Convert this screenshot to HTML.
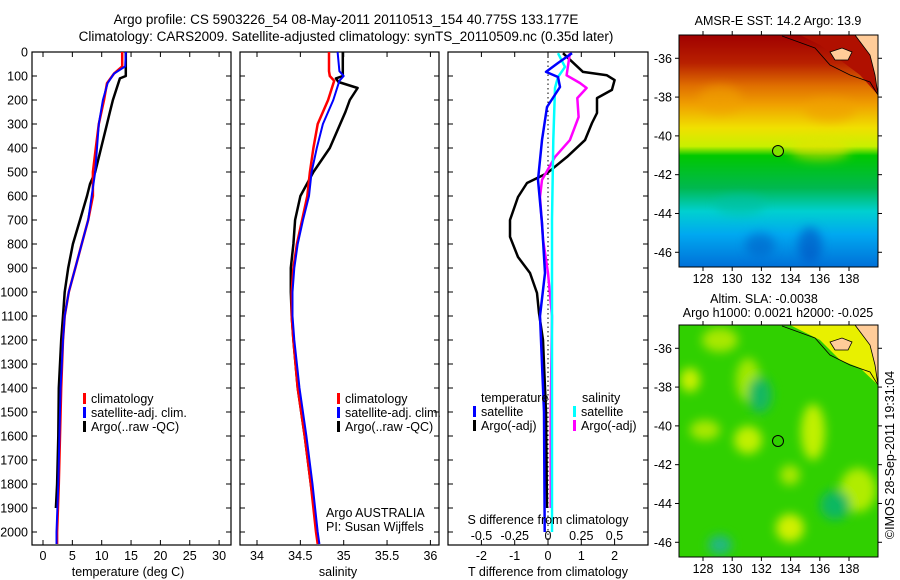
<!DOCTYPE html>
<html><head><meta charset="utf-8">
<style>
body{margin:0;background:#fff;}
svg{display:block;font-family:"Liberation Sans",sans-serif;font-size:12.5px;}
</style></head>
<body>
<svg id="s" width="900" height="580" viewBox="0 0 900 580">
<defs>
<linearGradient id="sst" x1="0" y1="0" x2="0" y2="1">
<stop offset="0" stop-color="#a00000"/><stop offset="0.12" stop-color="#b82000"/>
<stop offset="0.22" stop-color="#e07000"/><stop offset="0.3" stop-color="#f0a000"/>
<stop offset="0.4" stop-color="#f0e000"/><stop offset="0.48" stop-color="#c8f000"/>
<stop offset="0.52" stop-color="#00c800"/><stop offset="0.66" stop-color="#00b850"/>
<stop offset="0.76" stop-color="#00d0d0"/><stop offset="0.86" stop-color="#00a8f0"/>
<stop offset="1" stop-color="#0070d8"/></linearGradient>
<filter id="bl"><feGaussianBlur stdDeviation="5"/></filter>
<clipPath id="c1"><rect x="679" y="35" width="199" height="232"/></clipPath>
<clipPath id="c2"><rect x="679" y="325" width="199" height="232"/></clipPath>
</defs>
<g id="titles">
<text x="346" y="24" text-anchor="middle" font-size="13.5">Argo profile: CS 5903226_54 08-May-2011 20110513_154 40.775S 133.177E</text>
<text x="346" y="41" text-anchor="middle" font-size="13.5">Climatology: CARS2009. Satellite-adjusted climatology: synTS_20110509.nc (0.35d later)</text>
</g>
<g id="p1"></g>
<g id="p2"></g>
<g id="p3"></g>
<g id="m1">
<text x="778" y="25" text-anchor="middle">AMSR-E SST: 14.2 Argo: 13.9</text>
<g clip-path="url(#c1)">
<rect x="679" y="35" width="199" height="232" fill="url(#sst)"/>
<g filter="url(#bl)" opacity="0.6">
<ellipse cx="720" cy="100" rx="22" ry="14" fill="#f0a000"/>
<ellipse cx="830" cy="110" rx="25" ry="12" fill="#f0a000"/>
<ellipse cx="820" cy="150" rx="30" ry="10" fill="#e8e000"/>
<ellipse cx="740" cy="205" rx="25" ry="10" fill="#00c0a0"/>
<ellipse cx="810" cy="245" rx="12" ry="18" fill="#0050c0"/>
<ellipse cx="760" cy="245" rx="15" ry="12" fill="#0060c8"/>
</g>
<path d="M800 35 L820 45 L840 60 L860 75 L878 95 L878 35 Z" fill="#b01000"/>
<path d="M855 35 L870 55 L875 75 L878 95 L878 35 Z" fill="#ffcc99" stroke="#000" stroke-width="0.8"/>
<path d="M830 52 L842 48 L852 52 L848 60 L835 60 Z" fill="#ffcc99" stroke="#000" stroke-width="0.8"/>
<path d="M782 36 L815 48 L830 65 L850 75 L870 82 L878 95" fill="none" stroke="#000" stroke-width="0.8"/>
<circle cx="778" cy="151" r="5.5" fill="#80e000" stroke="#000" stroke-width="1"/>
</g>
<rect x="679" y="35" width="199" height="232" fill="none" stroke="#000"/>
</g>
<g id="m2">
<text x="764" y="303" text-anchor="middle">Altim. SLA: -0.0038</text>
<text x="778" y="317" text-anchor="middle">Argo h1000: 0.0021 h2000: -0.025</text>
<g clip-path="url(#c2)">
<rect x="679" y="325" width="199" height="232" fill="#30d000"/>
<g filter="url(#bl)">
<ellipse cx="720" cy="340" rx="18" ry="12" fill="#a8e800"/>
<ellipse cx="748" cy="380" rx="12" ry="22" fill="#a0e800"/>
<ellipse cx="748" cy="440" rx="14" ry="14" fill="#c0f000"/>
<ellipse cx="705" cy="430" rx="15" ry="10" fill="#a8e800"/>
<ellipse cx="813" cy="432" rx="12" ry="28" fill="#c0f000"/>
<ellipse cx="858" cy="490" rx="18" ry="22" fill="#b0ec00"/>
<ellipse cx="790" cy="475" rx="10" ry="10" fill="#a8e800"/>
<ellipse cx="790" cy="528" rx="14" ry="14" fill="#d0f000"/>
<ellipse cx="720" cy="545" rx="12" ry="10" fill="#20b880"/>
<ellipse cx="835" cy="505" rx="15" ry="15" fill="#10b860"/>
<ellipse cx="760" cy="395" rx="12" ry="18" fill="#18b860"/>
<ellipse cx="690" cy="380" rx="10" ry="12" fill="#c8f000"/>
</g>
<path d="M790 325 L820 340 L840 360 L860 368 L878 385 L878 325 Z" fill="#e8f000"/>
<path d="M855 325 L870 345 L875 365 L878 385 L878 325 Z" fill="#ffcc99" stroke="#000" stroke-width="0.8"/>
<path d="M830 342 L842 338 L852 342 L848 350 L835 350 Z" fill="#ffcc99" stroke="#000" stroke-width="0.8"/>
<path d="M782 326 L815 338 L830 355 L850 365 L870 372 L878 385" fill="none" stroke="#000" stroke-width="0.8"/>
<circle cx="778" cy="441" r="5.5" fill="none" stroke="#000" stroke-width="1"/>
</g>
<rect x="679" y="325" width="199" height="232" fill="none" stroke="#000"/>
</g>
<text x="894" y="455" transform="rotate(-90 894 455)" text-anchor="middle">©IMOS 28-Sep-2011 19:31:04</text>
</svg>
<script>
// ---- data ----
const tempDepthArgo = [0,100,110,200,250,300,400,500,550,600,700,800,900,1000,1100,1200,1400,1600,1800,1900];
const tempArgo = [14.1,14.1,13.1,11.9,11.4,10.9,9.9,8.9,8.0,7.5,6.3,5.1,4.3,3.7,3.4,3.1,2.7,2.6,2.4,2.2];
const tempDepthClim = [0,60,90,130,200,300,400,500,600,700,800,900,1000,1100,1200,1400,1600,1800,2000,2050];
const tempClim = [13.5,13.5,12.1,10.9,10.4,9.5,9.0,8.5,8.5,7.7,6.6,5.5,4.4,3.7,3.4,3.1,2.9,2.7,2.4,2.4];
const tempSat = [14.1,14.0,12.1,11.0,10.2,9.5,9.2,8.9,8.3,7.7,6.6,5.5,4.4,3.7,3.4,3.0,2.8,2.6,2.3,2.3];
const salDepthArgo = [0,100,110,125,150,200,250,300,400,500,600,700,800,900,1000,1100,1200,1400,1600,1800,1900];
const salArgo = [34.99,34.99,34.91,34.94,35.16,35.07,35.02,34.96,34.84,34.65,34.50,34.44,34.42,34.39,34.39,34.40,34.42,34.47,34.55,34.62,34.66];
const salDepthClim = [0,80,100,120,200,300,400,500,600,700,800,900,1000,1100,1200,1400,1600,1800,2000,2050];
const salClim = [34.83,34.83,34.84,34.89,34.82,34.70,34.65,34.61,34.58,34.52,34.46,34.42,34.40,34.40,34.42,34.47,34.55,34.62,34.68,34.70];
const salSat = [34.93,34.95,35.0,34.95,34.88,34.76,34.69,34.63,34.60,34.53,34.47,34.43,34.41,34.41,34.43,34.49,34.57,34.64,34.70,34.72];
const dDepthArgoT = [5,83,97,117,158,192,254,296,367,437,505,546,604,700,770,854,921,1004,1088,1200,1500,1900];
const dArgoT = [0.45,1.05,1.77,2.0,1.92,1.47,1.47,1.32,1.11,0.57,-0.03,-0.63,-0.9,-1.14,-1.14,-0.9,-0.54,-0.33,-0.27,-0.15,-0.06,-0.03];
const dDepthSatT = [5,46,83,104,146,229,367,533,713,921,1100,1500,2000];
const dSatT = [0.72,0.3,-0.06,0.3,0.36,-0.03,-0.18,-0.3,-0.18,-0.09,-0.24,-0.12,-0.1];
const dDepthArgoS = [5,97,129,150,192,271,367,437,533,604,783,921,1100,1500,1900];
const dArgoS = [0.165,0.14,0.24,0.29,0.22,0.23,0.165,0.053,-0.045,-0.06,-0.037,0,0.03,0.02,0.02];
const dDepthSatS = [5,62,104,150,367,700,1200,2000];
const dSatS = [0.075,0.128,0.075,0.053,0.04,0.03,0.03,0.03];
const depthTicks = [0,100,200,300,400,500,600,700,800,900,1000,1100,1200,1300,1400,1500,1600,1700,1800,1900,2000];
const tempTicks = [0,5,10,15,20,25,30];
const salTicks = [34,34.5,35,35.5,36];
const tdTicks = [-2,-1,0,1,2];
const sdTicks = [-0.5,-0.25,0,0.25,0.5];
const sdTickLabels = ['-0.5','-0.25','0','0.25','0.5'];

const NS='http://www.w3.org/2000/svg';
function mk(parent,tag,attrs,txt){const e=document.createElementNS(NS,tag);for(const k in attrs)e.setAttribute(k,attrs[k]);if(txt!==undefined)e.textContent=txt;parent.appendChild(e);return e;}
const Y0=52,Y1=545;
const yD=d=>Y0+d*0.24;
const xT=t=>43+t*5.87;
const xS=s=>257+(s-34)*86.7;
const xDT=t=>548+t*33.3;
const xDS=s=>548+s*133;

function line(g,depths,vals,xf,color,w,name){
  let d='';
  for(let i=0;i<vals.length;i++){d+=(i?'L':'M')+xf(vals[i]).toFixed(1)+' '+yD(depths[i]).toFixed(1);}
  const p=mk(g,'path',{d:d,fill:'none',stroke:color,'stroke-width':w,'stroke-linejoin':'round'});
  
  
}
function frame(g,x0,x1,xticks,xf,leftLabels){
  mk(g,'rect',{x:x0,y:Y0,width:x1-x0,height:Y1-Y0,fill:'none',stroke:'#000','stroke-width':1.2});
  depthTicks.forEach(d=>{const y=yD(d);
    mk(g,'line',{x1:x0,x2:x0+5,y1:y,y2:y,stroke:'#000'});
    mk(g,'line',{x1:x1-5,x2:x1,y1:y,y2:y,stroke:'#000'});
    if(leftLabels){const t=mk(g,'text',{x:x0-4,y:y+4.5,'text-anchor':'end'},String(d));
      
      }
  });
  xticks.forEach(v=>{const x=xf(v);
    mk(g,'line',{x1:x,x2:x,y1:Y0,y2:Y0+5,stroke:'#000'});
    mk(g,'line',{x1:x,x2:x,y1:Y1-5,y2:Y1,stroke:'#000'});
  });
}
function legend(g,x,y,items){
  items.forEach((it,i)=>{const yy=y+i*14;
    mk(g,'rect',{x:x,y:yy-10,width:3,height:11,fill:it[0]});
    const t=mk(g,'text',{x:x+8,y:yy},it[1]);
    
    
  });
}
// Panel 1
const g1=document.getElementById('p1');
frame(g1,32,231,tempTicks,xT,true);
line(g1,tempDepthArgo,tempArgo,xT,'#000',2.5,'argo-temperature-line');
line(g1,tempDepthClim,tempClim,xT,'#f00',2.5,'climatology-temperature-line');
line(g1,tempDepthClim,tempSat,xT,'#00f',2,'satellite-temperature-line');
tempTicks.forEach(v=>{const t=mk(g1,'text',{x:xT(v),y:560,'text-anchor':'middle'},String(v));
  
  });
mk(g1,'text',{x:128,y:576,'text-anchor':'middle'},'temperature (deg C)');
legend(g1,83,403,[['#f00','climatology'],['#00f','satellite-adj. clim.'],['#000','Argo(..raw -QC)']]);
// Panel 2
const g2=document.getElementById('p2');
frame(g2,240,439,salTicks,xS,false);
line(g2,salDepthArgo,salArgo,xS,'#000',2.5,'argo-salinity-line');
line(g2,salDepthClim,salClim,xS,'#f00',2.5,'climatology-salinity-line');
line(g2,salDepthClim,salSat,xS,'#00f',2,'satellite-salinity-line');
salTicks.forEach(v=>{const t=mk(g2,'text',{x:xS(v),y:560,'text-anchor':'middle'},String(v));
  
  });
mk(g2,'text',{x:338,y:576,'text-anchor':'middle'},'salinity');
legend(g2,337,403,[['#f00','climatology'],['#00f','satellite-adj. clim.'],['#000','Argo(..raw -QC)']]);
mk(g2,'text',{x:326,y:517},'Argo AUSTRALIA');
mk(g2,'text',{x:326,y:531},'PI: Susan Wijffels');
// Panel 3
const g3=document.getElementById('p3');
frame(g3,448,648,tdTicks,xDT,false);
mk(g3,'line',{x1:548,x2:548,y1:Y0,y2:Y1,stroke:'#000','stroke-dasharray':'1.5 3'});
line(g3,dDepthArgoT,dArgoT,xDT,'#000',2.5,'argo-temp-diff-line');
line(g3,dDepthArgoS,dArgoS,xDS,'#f0f',2.5,'argo-sal-diff-line');
line(g3,dDepthSatS,dSatS,xDS,'#0ff',2.5,'satellite-sal-diff-line');
line(g3,dDepthSatT,dSatT,xDT,'#00f',2.5,'satellite-temp-diff-line');
tdTicks.forEach(v=>{const t=mk(g3,'text',{x:xDT(v),y:560,'text-anchor':'middle'},String(v));
  
  });
sdTicks.forEach((v,i)=>{const t=mk(g3,'text',{x:xDS(v),y:540,'text-anchor':'middle'},sdTickLabels[i]);
  
  });
mk(g3,'text',{x:548,y:524,'text-anchor':'middle'},'S difference from climatology');
mk(g3,'text',{x:548,y:576,'text-anchor':'middle'},'T difference from climatology');
mk(g3,'text',{x:481,y:402},'temperature');
mk(g3,'text',{x:582,y:402},'salinity');
legend(g3,473,416,[['#00f','satellite'],['#000','Argo(-adj)']]);
legend(g3,573,416,[['#0ff','satellite'],['#f0f','Argo(-adj)']]);
// Map axes
function mapAxes(gid,top,bottom,latTop){
  const g=document.getElementById(gid);
  const xl=l=>703+(l-128)*14.6;
  const yl=la=>top+ (latTop-la)*19.4;
  [128,130,132,134,136,138].forEach(l=>{const x=xl(l);
    mk(g,'line',{x1:x,x2:x,y1:top-4,y2:top,stroke:'#000'});
    mk(g,'line',{x1:x,x2:x,y1:bottom,y2:bottom+4,stroke:'#000'});
    const t=mk(g,'text',{x:x,y:bottom+16,'text-anchor':'middle'},String(l));
    
    });
  [-36,-38,-40,-42,-44,-46].forEach(la=>{const y=yl(la);
    mk(g,'line',{x1:675,x2:679,y1:y,y2:y,stroke:'#000'});
    mk(g,'line',{x1:878,x2:882,y1:y,y2:y,stroke:'#000'});
    const t=mk(g,'text',{x:672,y:y+4.5,'text-anchor':'end'},String(la));
    
    });
}
mapAxes('m1',35,267,-34.8);
mapAxes('m2',325,557,-34.8);
</script>
</body></html>
